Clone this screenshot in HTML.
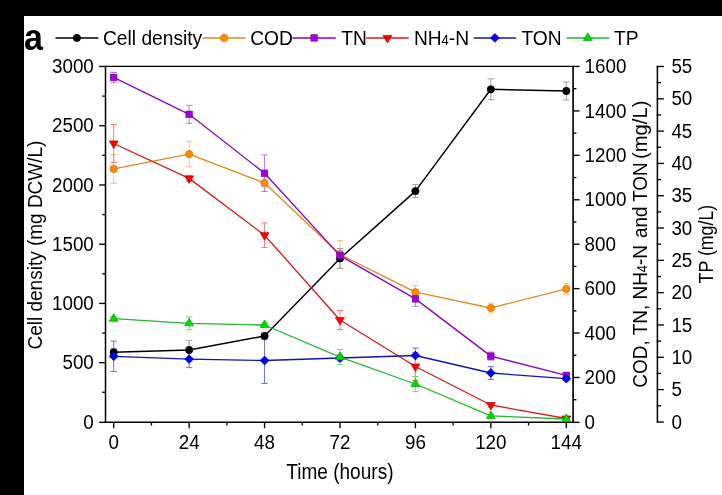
<!DOCTYPE html><html><head><meta charset="utf-8"><style>html,body{margin:0;padding:0;background:#fff;}body{width:722px;height:495px;overflow:hidden;}svg{display:block;will-change:transform;font-family:"Liberation Sans", sans-serif;}</style></head><body>
<svg width="722" height="495" viewBox="0 0 722 495">
<rect x="0" y="0" width="722" height="495" fill="#fff"/>
<rect x="0" y="0" width="24" height="495" fill="#000"/>
<rect x="0" y="0" width="722" height="16" fill="#000"/>
<text transform="translate(24.00,49.50) scale(0.92,1.0)" font-size="37" font-weight="bold">a</text>
<line x1="55.5" y1="37.9" x2="98.3" y2="37.9" stroke="#000000" stroke-width="1.45"/>
<circle cx="76.90" cy="37.90" r="3.65" fill="#000000" stroke="#000000" stroke-width="0.7" stroke-linejoin="miter"/>
<text transform="translate(103.00,44.50) scale(1.0,1.1)" font-size="19.2">Cell density</text>
<line x1="202.8" y1="37.9" x2="245.5" y2="37.9" stroke="#E28A22" stroke-width="1.45"/>
<circle cx="224.15" cy="37.90" r="3.65" fill="#FF8C00" stroke="#D07010" stroke-width="0.7" stroke-linejoin="miter"/>
<text transform="translate(250.20,44.50) scale(1.0,1.1)" font-size="19.2">COD</text>
<line x1="292.5" y1="37.9" x2="335.7" y2="37.9" stroke="#8A06BA" stroke-width="1.45"/>
<rect x="310.90" y="34.70" width="6.40" height="6.40" fill="#A200DA" stroke="#7400A4" stroke-width="0.7" stroke-linejoin="miter"/>
<text transform="translate(341.30,44.50) scale(1.0,1.1)" font-size="19.2">TN</text>
<line x1="366.0" y1="37.9" x2="408.8" y2="37.9" stroke="#D41C1C" stroke-width="1.45"/>
<path d="M382.92,35.38L391.88,35.38L387.40,42.94Z" fill="#FF0000" stroke="#C80000" stroke-width="0.7" stroke-linejoin="miter"/>
<text transform="translate(413.90,44.50) scale(1.0,1.1)" font-size="19.2">NH<tspan font-size="13">4</tspan>-N</text>
<line x1="473.7" y1="37.9" x2="516.1" y2="37.9" stroke="#1414B0" stroke-width="1.45"/>
<path d="M494.90,33.49L499.31,37.90L494.90,42.31L490.49,37.90Z" fill="#0000F2" stroke="#0000B0" stroke-width="0.7" stroke-linejoin="miter"/>
<text transform="translate(521.50,44.50) scale(1.0,1.1)" font-size="19.2">TON</text>
<line x1="566.5" y1="37.9" x2="609.1" y2="37.9" stroke="#22B832" stroke-width="1.45"/>
<path d="M583.32,40.45L592.27,40.45L587.80,32.79Z" fill="#00DA00" stroke="#00A800" stroke-width="0.7" stroke-linejoin="miter"/>
<text transform="translate(614.00,44.50) scale(1.0,1.1)" font-size="19.2">TP</text>
<path d="M105.5,66.45V422.3" stroke="#000" stroke-width="1.5" fill="none"/>
<path d="M573.1,66.45V422.3" stroke="#000" stroke-width="1.65" fill="none"/>
<path d="M104.8,422.3H573.9" stroke="#000" stroke-width="1.5" fill="none"/>
<path d="M104.8,66.45H573.9" stroke="#000" stroke-width="1.25" fill="none"/>
<path d="M99.10,422.30H105.5" stroke="#000" stroke-width="1.35"/>
<text transform="translate(93.80,428.50) scale(1.0,1.03)" font-size="18.8" text-anchor="end">0</text>
<path d="M102.30,392.28H105.5" stroke="#000" stroke-width="1.35"/>
<path d="M99.10,362.67H105.5" stroke="#000" stroke-width="1.35"/>
<text transform="translate(93.80,369.27) scale(1.0,1.03)" font-size="18.8" text-anchor="end">500</text>
<path d="M102.30,333.05H105.5" stroke="#000" stroke-width="1.35"/>
<path d="M99.10,303.43H105.5" stroke="#000" stroke-width="1.35"/>
<text transform="translate(93.80,310.03) scale(1.0,1.03)" font-size="18.8" text-anchor="end">1000</text>
<path d="M102.30,273.82H105.5" stroke="#000" stroke-width="1.35"/>
<path d="M99.10,244.20H105.5" stroke="#000" stroke-width="1.35"/>
<text transform="translate(93.80,250.80) scale(1.0,1.03)" font-size="18.8" text-anchor="end">1500</text>
<path d="M102.30,214.58H105.5" stroke="#000" stroke-width="1.35"/>
<path d="M99.10,184.97H105.5" stroke="#000" stroke-width="1.35"/>
<text transform="translate(93.80,191.57) scale(1.0,1.03)" font-size="18.8" text-anchor="end">2000</text>
<path d="M102.30,155.35H105.5" stroke="#000" stroke-width="1.35"/>
<path d="M99.10,125.73H105.5" stroke="#000" stroke-width="1.35"/>
<text transform="translate(93.80,132.33) scale(1.0,1.03)" font-size="18.8" text-anchor="end">2500</text>
<path d="M102.30,96.12H105.5" stroke="#000" stroke-width="1.35"/>
<path d="M99.10,66.45H105.5" stroke="#000" stroke-width="1.35"/>
<text transform="translate(93.80,73.10) scale(1.0,1.03)" font-size="18.8" text-anchor="end">3000</text>
<path d="M573.10,422.30H579.60" stroke="#000" stroke-width="1.35"/>
<text transform="translate(584.60,428.50) scale(1.0,1.03)" font-size="18.8">0</text>
<path d="M573.10,399.69H576.40" stroke="#000" stroke-width="1.35"/>
<path d="M573.10,377.47H579.60" stroke="#000" stroke-width="1.35"/>
<text transform="translate(584.60,384.07) scale(1.0,1.03)" font-size="18.8">200</text>
<path d="M573.10,355.26H576.40" stroke="#000" stroke-width="1.35"/>
<path d="M573.10,333.05H579.60" stroke="#000" stroke-width="1.35"/>
<text transform="translate(584.60,339.65) scale(1.0,1.03)" font-size="18.8">400</text>
<path d="M573.10,310.84H576.40" stroke="#000" stroke-width="1.35"/>
<path d="M573.10,288.62H579.60" stroke="#000" stroke-width="1.35"/>
<text transform="translate(584.60,295.23) scale(1.0,1.03)" font-size="18.8">600</text>
<path d="M573.10,266.41H576.40" stroke="#000" stroke-width="1.35"/>
<path d="M573.10,244.20H579.60" stroke="#000" stroke-width="1.35"/>
<text transform="translate(584.60,250.80) scale(1.0,1.03)" font-size="18.8">800</text>
<path d="M573.10,221.99H576.40" stroke="#000" stroke-width="1.35"/>
<path d="M573.10,199.77H579.60" stroke="#000" stroke-width="1.35"/>
<text transform="translate(584.60,206.37) scale(1.0,1.03)" font-size="18.8">1000</text>
<path d="M573.10,177.56H576.40" stroke="#000" stroke-width="1.35"/>
<path d="M573.10,155.35H579.60" stroke="#000" stroke-width="1.35"/>
<text transform="translate(584.60,161.95) scale(1.0,1.03)" font-size="18.8">1200</text>
<path d="M573.10,133.14H576.40" stroke="#000" stroke-width="1.35"/>
<path d="M573.10,110.93H579.60" stroke="#000" stroke-width="1.35"/>
<text transform="translate(584.60,117.53) scale(1.0,1.03)" font-size="18.8">1400</text>
<path d="M573.10,88.71H576.40" stroke="#000" stroke-width="1.35"/>
<path d="M573.10,66.45H579.60" stroke="#000" stroke-width="1.35"/>
<text transform="translate(584.60,73.10) scale(1.0,1.03)" font-size="18.8">1600</text>
<path d="M657.4,65.85000000000001V422.8" stroke="#000" stroke-width="1.5" fill="none"/>
<path d="M656.70,422.00H663.90" stroke="#000" stroke-width="1.35"/>
<text transform="translate(671.40,428.50) scale(1.0,1.03)" font-size="18.8">0</text>
<path d="M656.70,405.75H661.00" stroke="#000" stroke-width="1.35"/>
<path d="M656.70,389.59H663.90" stroke="#000" stroke-width="1.35"/>
<text transform="translate(671.40,396.19) scale(1.0,1.03)" font-size="18.8">5</text>
<path d="M656.70,373.44H661.00" stroke="#000" stroke-width="1.35"/>
<path d="M656.70,357.28H663.90" stroke="#000" stroke-width="1.35"/>
<text transform="translate(671.40,363.88) scale(1.0,1.03)" font-size="18.8">10</text>
<path d="M656.70,341.13H661.00" stroke="#000" stroke-width="1.35"/>
<path d="M656.70,324.97H663.90" stroke="#000" stroke-width="1.35"/>
<text transform="translate(671.40,331.57) scale(1.0,1.03)" font-size="18.8">15</text>
<path d="M656.70,308.82H661.00" stroke="#000" stroke-width="1.35"/>
<path d="M656.70,292.66H663.90" stroke="#000" stroke-width="1.35"/>
<text transform="translate(671.40,299.26) scale(1.0,1.03)" font-size="18.8">20</text>
<path d="M656.70,276.51H661.00" stroke="#000" stroke-width="1.35"/>
<path d="M656.70,260.35H663.90" stroke="#000" stroke-width="1.35"/>
<text transform="translate(671.40,266.95) scale(1.0,1.03)" font-size="18.8">25</text>
<path d="M656.70,244.20H661.00" stroke="#000" stroke-width="1.35"/>
<path d="M656.70,228.05H663.90" stroke="#000" stroke-width="1.35"/>
<text transform="translate(671.40,234.65) scale(1.0,1.03)" font-size="18.8">30</text>
<path d="M656.70,211.89H661.00" stroke="#000" stroke-width="1.35"/>
<path d="M656.70,195.74H663.90" stroke="#000" stroke-width="1.35"/>
<text transform="translate(671.40,202.34) scale(1.0,1.03)" font-size="18.8">35</text>
<path d="M656.70,179.58H661.00" stroke="#000" stroke-width="1.35"/>
<path d="M656.70,163.43H663.90" stroke="#000" stroke-width="1.35"/>
<text transform="translate(671.40,170.03) scale(1.0,1.03)" font-size="18.8">40</text>
<path d="M656.70,147.27H661.00" stroke="#000" stroke-width="1.35"/>
<path d="M656.70,131.12H663.90" stroke="#000" stroke-width="1.35"/>
<text transform="translate(671.40,137.72) scale(1.0,1.03)" font-size="18.8">45</text>
<path d="M656.70,114.96H661.00" stroke="#000" stroke-width="1.35"/>
<path d="M656.70,98.81H663.90" stroke="#000" stroke-width="1.35"/>
<text transform="translate(671.40,105.41) scale(1.0,1.03)" font-size="18.8">50</text>
<path d="M656.70,82.65H661.00" stroke="#000" stroke-width="1.35"/>
<path d="M656.70,66.50H663.90" stroke="#000" stroke-width="1.35"/>
<text transform="translate(671.40,73.10) scale(1.0,1.03)" font-size="18.8">55</text>
<path d="M113.70,422.3V428.30" stroke="#000" stroke-width="1.35"/>
<text transform="translate(113.70,448.80) scale(1.0,1.03)" font-size="18.8" text-anchor="middle">0</text>
<path d="M151.42,422.3V425.50" stroke="#000" stroke-width="1.35"/>
<path d="M189.13,422.3V428.30" stroke="#000" stroke-width="1.35"/>
<text transform="translate(189.13,448.80) scale(1.0,1.03)" font-size="18.8" text-anchor="middle">24</text>
<path d="M226.85,422.3V425.50" stroke="#000" stroke-width="1.35"/>
<path d="M264.56,422.3V428.30" stroke="#000" stroke-width="1.35"/>
<text transform="translate(264.56,448.80) scale(1.0,1.03)" font-size="18.8" text-anchor="middle">48</text>
<path d="M302.28,422.3V425.50" stroke="#000" stroke-width="1.35"/>
<path d="M339.99,422.3V428.30" stroke="#000" stroke-width="1.35"/>
<text transform="translate(339.99,448.80) scale(1.0,1.03)" font-size="18.8" text-anchor="middle">72</text>
<path d="M377.70,422.3V425.50" stroke="#000" stroke-width="1.35"/>
<path d="M415.42,422.3V428.30" stroke="#000" stroke-width="1.35"/>
<text transform="translate(415.42,448.80) scale(1.0,1.03)" font-size="18.8" text-anchor="middle">96</text>
<path d="M453.14,422.3V425.50" stroke="#000" stroke-width="1.35"/>
<path d="M490.85,422.3V428.30" stroke="#000" stroke-width="1.35"/>
<text transform="translate(490.85,448.80) scale(1.0,1.03)" font-size="18.8" text-anchor="middle">120</text>
<path d="M528.57,422.3V425.50" stroke="#000" stroke-width="1.35"/>
<path d="M566.28,422.3V428.30" stroke="#000" stroke-width="1.35"/>
<text transform="translate(566.28,448.80) scale(1.0,1.03)" font-size="18.8" text-anchor="middle">144</text>
<text transform="translate(339.90,478.70) scale(1.0,1.11)" font-size="19.05" text-anchor="middle">Time (hours)</text>
<text transform="translate(41.50,245.05) rotate(-90) scale(1.0,1.06)" font-size="19.0" text-anchor="middle">Cell density (mg DCW/L)</text>
<text transform="translate(646.80,387.70) rotate(-90) scale(0.983,1.06)" font-size="19.3">COD, TN, NH<tspan font-size="13">4</tspan>-N</text>
<text transform="translate(646.80,237.90) rotate(-90) scale(0.972,1.06)" font-size="19.3">and TON</text>
<text transform="translate(646.80,159.10) rotate(-90) scale(1.05,1.06)" font-size="19.3">(mg/L)</text>
<text transform="translate(713.30,244.10) rotate(-90) scale(1.0,1.12)" font-size="17.8" text-anchor="middle">TP (mg/L)</text>
<path d="M113.70,154.50V183.30M110.50,154.50H116.90M110.50,183.30H116.90" stroke="#F2BE80" stroke-width="0.9" fill="none"/>
<path d="M189.13,141.30V166.90M185.93,141.30H192.33M185.93,166.90H192.33" stroke="#F2BE80" stroke-width="0.9" fill="none"/>
<path d="M264.56,179.10V187.10M261.36,179.10H267.76M261.36,187.10H267.76" stroke="#F2BE80" stroke-width="0.9" fill="none"/>
<path d="M339.99,240.50V268.50M336.79,240.50H343.19M336.79,268.50H343.19" stroke="#F2BE80" stroke-width="0.9" fill="none"/>
<path d="M415.42,285.50V298.90M412.22,285.50H418.62M412.22,298.90H418.62" stroke="#F2BE80" stroke-width="0.9" fill="none"/>
<path d="M490.85,303.00V313.00M487.65,303.00H494.05M487.65,313.00H494.05" stroke="#F2BE80" stroke-width="0.9" fill="none"/>
<path d="M566.28,283.30V294.50M563.08,283.30H569.48M563.08,294.50H569.48" stroke="#F2BE80" stroke-width="0.9" fill="none"/>
<path d="M113.70,72.50V82.30M110.50,72.50H116.90M110.50,82.30H116.90" stroke="#B070D8" stroke-width="0.9" fill="none"/>
<path d="M189.13,105.30V123.30M185.93,105.30H192.33M185.93,123.30H192.33" stroke="#B070D8" stroke-width="0.9" fill="none"/>
<path d="M264.56,154.90V191.50M261.36,154.90H267.76M261.36,191.50H267.76" stroke="#B070D8" stroke-width="0.9" fill="none"/>
<path d="M339.99,250.60V260.60M336.79,250.60H343.19M336.79,260.60H343.19" stroke="#B070D8" stroke-width="0.9" fill="none"/>
<path d="M415.42,291.50V306.30M412.22,291.50H418.62M412.22,306.30H418.62" stroke="#B070D8" stroke-width="0.9" fill="none"/>
<path d="M490.85,352.10V360.10M487.65,352.10H494.05M487.65,360.10H494.05" stroke="#B070D8" stroke-width="0.9" fill="none"/>
<path d="M566.28,373.30V377.30M563.08,373.30H569.48M563.08,377.30H569.48" stroke="#B070D8" stroke-width="0.9" fill="none"/>
<path d="M113.70,124.50V162.50M110.50,124.50H116.90M110.50,162.50H116.90" stroke="#F07070" stroke-width="0.9" fill="none"/>
<path d="M189.13,175.40V181.40M185.93,175.40H192.33M185.93,181.40H192.33" stroke="#F07070" stroke-width="0.9" fill="none"/>
<path d="M264.56,222.90V247.50M261.36,222.90H267.76M261.36,247.50H267.76" stroke="#F07070" stroke-width="0.9" fill="none"/>
<path d="M339.99,310.50V329.50M336.79,310.50H343.19M336.79,329.50H343.19" stroke="#F07070" stroke-width="0.9" fill="none"/>
<path d="M415.42,352.50V380.50M412.22,352.50H418.62M412.22,380.50H418.62" stroke="#F07070" stroke-width="0.9" fill="none"/>
<path d="M490.85,403.00V407.00M487.65,403.00H494.05M487.65,407.00H494.05" stroke="#F07070" stroke-width="0.9" fill="none"/>
<path d="M566.28,417.50V419.50M563.08,417.50H569.48M563.08,419.50H569.48" stroke="#F07070" stroke-width="0.9" fill="none"/>
<path d="M113.70,341.10V371.50M110.50,341.10H116.90M110.50,371.50H116.90" stroke="#6464D4" stroke-width="0.9" fill="none"/>
<path d="M189.13,350.60V367.60M185.93,350.60H192.33M185.93,367.60H192.33" stroke="#6464D4" stroke-width="0.9" fill="none"/>
<path d="M264.56,337.50V383.50M261.36,337.50H267.76M261.36,383.50H267.76" stroke="#6464D4" stroke-width="0.9" fill="none"/>
<path d="M339.99,355.00V361.00M336.79,355.00H343.19M336.79,361.00H343.19" stroke="#6464D4" stroke-width="0.9" fill="none"/>
<path d="M415.42,348.10V355.50M412.22,348.10H418.62" stroke="#6464D4" stroke-width="0.9" fill="none"/>
<path d="M490.85,366.60V379.40M487.65,366.60H494.05M487.65,379.40H494.05" stroke="#6464D4" stroke-width="0.9" fill="none"/>
<path d="M566.28,376.70V380.70M563.08,376.70H569.48M563.08,380.70H569.48" stroke="#6464D4" stroke-width="0.9" fill="none"/>
<path d="M113.70,316.70V320.70M110.50,316.70H116.90M110.50,320.70H116.90" stroke="#70D070" stroke-width="0.9" fill="none"/>
<path d="M189.13,316.90V329.70M185.93,316.90H192.33M185.93,329.70H192.33" stroke="#70D070" stroke-width="0.9" fill="none"/>
<path d="M264.56,323.00V327.00M261.36,323.00H267.76M261.36,327.00H267.76" stroke="#70D070" stroke-width="0.9" fill="none"/>
<path d="M339.99,349.60V364.60M336.79,349.60H343.19M336.79,364.60H343.19" stroke="#70D070" stroke-width="0.9" fill="none"/>
<path d="M415.42,376.50V391.50M412.22,376.50H418.62M412.22,391.50H418.62" stroke="#70D070" stroke-width="0.9" fill="none"/>
<path d="M490.85,414.90V416.90M487.65,414.90H494.05M487.65,416.90H494.05" stroke="#70D070" stroke-width="0.9" fill="none"/>
<path d="M566.28,418.00V420.00M563.08,418.00H569.48M563.08,420.00H569.48" stroke="#70D070" stroke-width="0.9" fill="none"/>
<path d="M113.70,348.30V356.30M110.50,348.30H116.90M110.50,356.30H116.90" stroke="#959595" stroke-width="0.9" fill="none"/>
<path d="M189.13,340.40V359.60M185.93,340.40H192.33M185.93,359.60H192.33" stroke="#959595" stroke-width="0.9" fill="none"/>
<path d="M264.56,333.00V339.00M261.36,333.00H267.76M261.36,339.00H267.76" stroke="#959595" stroke-width="0.9" fill="none"/>
<path d="M339.99,248.50V268.30M336.79,248.50H343.19M336.79,268.30H343.19" stroke="#959595" stroke-width="0.9" fill="none"/>
<path d="M415.42,184.60V197.60M412.22,184.60H418.62M412.22,197.60H418.62" stroke="#959595" stroke-width="0.9" fill="none"/>
<path d="M490.85,78.80V99.80M487.65,78.80H494.05M487.65,99.80H494.05" stroke="#959595" stroke-width="0.9" fill="none"/>
<path d="M566.28,82.00V100.00M563.08,82.00H569.48M563.08,100.00H569.48" stroke="#959595" stroke-width="0.9" fill="none"/>
<polyline points="113.70,352.30 189.13,350.00 264.56,336.00 339.99,258.40 415.42,191.10 490.85,89.30 566.28,91.00" stroke="#000000" stroke-width="1.45" fill="none" stroke-linejoin="round"/>
<circle cx="113.70" cy="352.30" r="3.65" fill="#000000" stroke="#000000" stroke-width="0.7" stroke-linejoin="miter"/>
<circle cx="189.13" cy="350.00" r="3.65" fill="#000000" stroke="#000000" stroke-width="0.7" stroke-linejoin="miter"/>
<circle cx="264.56" cy="336.00" r="3.65" fill="#000000" stroke="#000000" stroke-width="0.7" stroke-linejoin="miter"/>
<circle cx="339.99" cy="258.40" r="3.65" fill="#000000" stroke="#000000" stroke-width="0.7" stroke-linejoin="miter"/>
<circle cx="415.42" cy="191.10" r="3.65" fill="#000000" stroke="#000000" stroke-width="0.7" stroke-linejoin="miter"/>
<circle cx="490.85" cy="89.30" r="3.65" fill="#000000" stroke="#000000" stroke-width="0.7" stroke-linejoin="miter"/>
<circle cx="566.28" cy="91.00" r="3.65" fill="#000000" stroke="#000000" stroke-width="0.7" stroke-linejoin="miter"/>
<polyline points="113.70,168.90 189.13,154.10 264.56,183.10 339.99,254.50 415.42,292.20 490.85,308.00 566.28,288.90" stroke="#E28A22" stroke-width="1.32" fill="none" stroke-linejoin="round"/>
<circle cx="113.70" cy="168.90" r="3.65" fill="#FF8C00" stroke="#D07010" stroke-width="0.7" stroke-linejoin="miter"/>
<circle cx="189.13" cy="154.10" r="3.65" fill="#FF8C00" stroke="#D07010" stroke-width="0.7" stroke-linejoin="miter"/>
<circle cx="264.56" cy="183.10" r="3.65" fill="#FF8C00" stroke="#D07010" stroke-width="0.7" stroke-linejoin="miter"/>
<circle cx="339.99" cy="254.50" r="3.65" fill="#FF8C00" stroke="#D07010" stroke-width="0.7" stroke-linejoin="miter"/>
<circle cx="415.42" cy="292.20" r="3.65" fill="#FF8C00" stroke="#D07010" stroke-width="0.7" stroke-linejoin="miter"/>
<circle cx="490.85" cy="308.00" r="3.65" fill="#FF8C00" stroke="#D07010" stroke-width="0.7" stroke-linejoin="miter"/>
<circle cx="566.28" cy="288.90" r="3.65" fill="#FF8C00" stroke="#D07010" stroke-width="0.7" stroke-linejoin="miter"/>
<polyline points="113.70,77.40 189.13,114.30 264.56,173.20 339.99,255.60 415.42,298.90 490.85,356.10 566.28,375.30" stroke="#8A06BA" stroke-width="1.32" fill="none" stroke-linejoin="round"/>
<rect x="110.50" y="74.20" width="6.40" height="6.40" fill="#A200DA" stroke="#7400A4" stroke-width="0.7" stroke-linejoin="miter"/>
<rect x="185.93" y="111.10" width="6.40" height="6.40" fill="#A200DA" stroke="#7400A4" stroke-width="0.7" stroke-linejoin="miter"/>
<rect x="261.36" y="170.00" width="6.40" height="6.40" fill="#A200DA" stroke="#7400A4" stroke-width="0.7" stroke-linejoin="miter"/>
<rect x="336.79" y="252.40" width="6.40" height="6.40" fill="#A200DA" stroke="#7400A4" stroke-width="0.7" stroke-linejoin="miter"/>
<rect x="412.22" y="295.70" width="6.40" height="6.40" fill="#A200DA" stroke="#7400A4" stroke-width="0.7" stroke-linejoin="miter"/>
<rect x="487.65" y="352.90" width="6.40" height="6.40" fill="#A200DA" stroke="#7400A4" stroke-width="0.7" stroke-linejoin="miter"/>
<rect x="563.08" y="372.10" width="6.40" height="6.40" fill="#A200DA" stroke="#7400A4" stroke-width="0.7" stroke-linejoin="miter"/>
<polyline points="113.70,143.50 189.13,178.40 264.56,235.20 339.99,320.00 415.42,366.50 490.85,405.00 566.28,418.50" stroke="#D41C1C" stroke-width="1.32" fill="none" stroke-linejoin="round"/>
<path d="M109.23,140.98L118.17,140.98L113.70,148.54Z" fill="#FF0000" stroke="#C80000" stroke-width="0.7" stroke-linejoin="miter"/>
<path d="M184.66,175.88L193.60,175.88L189.13,183.44Z" fill="#FF0000" stroke="#C80000" stroke-width="0.7" stroke-linejoin="miter"/>
<path d="M260.08,232.68L269.04,232.68L264.56,240.24Z" fill="#FF0000" stroke="#C80000" stroke-width="0.7" stroke-linejoin="miter"/>
<path d="M335.51,317.48L344.47,317.48L339.99,325.04Z" fill="#FF0000" stroke="#C80000" stroke-width="0.7" stroke-linejoin="miter"/>
<path d="M410.94,363.98L419.90,363.98L415.42,371.54Z" fill="#FF0000" stroke="#C80000" stroke-width="0.7" stroke-linejoin="miter"/>
<path d="M486.38,402.48L495.33,402.48L490.85,410.04Z" fill="#FF0000" stroke="#C80000" stroke-width="0.7" stroke-linejoin="miter"/>
<path d="M561.81,415.98L570.76,415.98L566.28,423.54Z" fill="#FF0000" stroke="#C80000" stroke-width="0.7" stroke-linejoin="miter"/>
<polyline points="113.70,356.30 189.13,359.10 264.56,360.50 339.99,358.00 415.42,355.50 490.85,373.00 566.28,378.70" stroke="#1414B0" stroke-width="1.32" fill="none" stroke-linejoin="round"/>
<path d="M113.70,351.89L118.11,356.30L113.70,360.71L109.29,356.30Z" fill="#0000F2" stroke="#0000B0" stroke-width="0.7" stroke-linejoin="miter"/>
<path d="M189.13,354.69L193.54,359.10L189.13,363.51L184.72,359.10Z" fill="#0000F2" stroke="#0000B0" stroke-width="0.7" stroke-linejoin="miter"/>
<path d="M264.56,356.09L268.97,360.50L264.56,364.91L260.15,360.50Z" fill="#0000F2" stroke="#0000B0" stroke-width="0.7" stroke-linejoin="miter"/>
<path d="M339.99,353.59L344.40,358.00L339.99,362.41L335.58,358.00Z" fill="#0000F2" stroke="#0000B0" stroke-width="0.7" stroke-linejoin="miter"/>
<path d="M415.42,351.09L419.83,355.50L415.42,359.91L411.01,355.50Z" fill="#0000F2" stroke="#0000B0" stroke-width="0.7" stroke-linejoin="miter"/>
<path d="M490.85,368.59L495.26,373.00L490.85,377.41L486.44,373.00Z" fill="#0000F2" stroke="#0000B0" stroke-width="0.7" stroke-linejoin="miter"/>
<path d="M566.28,374.29L570.69,378.70L566.28,383.11L561.87,378.70Z" fill="#0000F2" stroke="#0000B0" stroke-width="0.7" stroke-linejoin="miter"/>
<polyline points="113.70,318.70 189.13,323.30 264.56,325.00 339.99,357.10 415.42,384.00 490.85,415.90 566.28,419.00" stroke="#22B832" stroke-width="1.32" fill="none" stroke-linejoin="round"/>
<path d="M109.23,321.25L118.17,321.25L113.70,313.59Z" fill="#00DA00" stroke="#00A800" stroke-width="0.7" stroke-linejoin="miter"/>
<path d="M184.66,325.85L193.60,325.85L189.13,318.19Z" fill="#00DA00" stroke="#00A800" stroke-width="0.7" stroke-linejoin="miter"/>
<path d="M260.08,327.55L269.04,327.55L264.56,319.89Z" fill="#00DA00" stroke="#00A800" stroke-width="0.7" stroke-linejoin="miter"/>
<path d="M335.51,359.65L344.47,359.65L339.99,351.99Z" fill="#00DA00" stroke="#00A800" stroke-width="0.7" stroke-linejoin="miter"/>
<path d="M410.94,386.55L419.90,386.55L415.42,378.89Z" fill="#00DA00" stroke="#00A800" stroke-width="0.7" stroke-linejoin="miter"/>
<path d="M486.38,418.45L495.33,418.45L490.85,410.79Z" fill="#00DA00" stroke="#00A800" stroke-width="0.7" stroke-linejoin="miter"/>
<path d="M561.81,421.55L570.76,421.55L566.28,413.89Z" fill="#00DA00" stroke="#00A800" stroke-width="0.7" stroke-linejoin="miter"/>
</svg></body></html>
